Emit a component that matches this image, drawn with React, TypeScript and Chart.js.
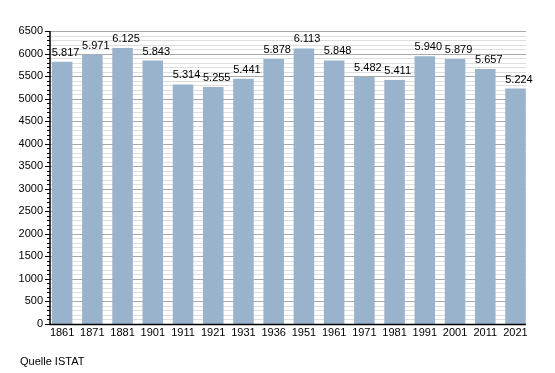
import React, { useEffect, useRef } from "react";
import { Chart, registerables } from "chart.js";

Chart.register(...registerables);

const years = ["1861", "1871", "1881", "1901", "1911", "1921", "1931", "1936", "1951", "1961", "1971", "1981", "1991", "2001", "2011", "2021"];
const population = [5817, 5971, 6125, 5843, 5314, 5255, 5441, 5878, 6113, 5848, 5482, 5411, 5940, 5879, 5657, 5224];
const yMin = 0;
const yMax = 6500;
const majorStep = 500;
const minorStep = 100;
const sourceNote = "Quelle ISTAT";

const FONT = "'Liberation Sans', Arial, sans-serif";

function fmt(v: number): string {
  const s = String(v);
  return s.replace(/\B(?=(\d{3})+(?!\d))/g, ".");
}

const AXIS_X = 50;
const AXIS_RIGHT = 526;

const gridPlugin = {
  id: "customGrid",
  beforeDatasetsDraw(chart: any) {
    const ctx = chart.ctx;
    const y = chart.scales.y;
    ctx.save();
    for (let v = yMin; v <= yMax; v += minorStep) {
      const py = Math.round(y.getPixelForValue(v)) + 0.5;
      const major = v % majorStep === 0;
      ctx.strokeStyle = major ? "#a8a8a8" : "#dedede";
      ctx.lineWidth = 1;
      ctx.beginPath();
      ctx.moveTo(AXIS_X, py);
      ctx.lineTo(AXIS_RIGHT, py);
      ctx.stroke();
    }
    ctx.restore();
  },
  afterDatasetsDraw(chart: any) {
    const ctx = chart.ctx;
    const y = chart.scales.y;
    ctx.save();
    // value labels
    ctx.fillStyle = "#000";
    ctx.font = "11px " + FONT;
    ctx.textAlign = "left";
    ctx.textBaseline = "alphabetic";
    const meta = chart.getDatasetMeta(0);
    meta.data.forEach((bar: any, i: number) => {
      ctx.fillText(fmt(population[i]), bar.x - bar.width / 2, bar.y - 6);
    });
    // axes
    const top = Math.round(y.getPixelForValue(yMax));
    const bottom = Math.round(y.getPixelForValue(yMin));
    ctx.strokeStyle = "#000";
    ctx.lineWidth = 1.5;
    ctx.beginPath();
    ctx.moveTo(AXIS_X, top);
    ctx.lineTo(AXIS_X, bottom + 0.5);
    ctx.lineTo(AXIS_RIGHT, bottom + 0.5);
    ctx.stroke();
    // ticks
    ctx.lineWidth = 1;
    for (let v = yMin; v <= yMax; v += minorStep) {
      const py = Math.round(y.getPixelForValue(v)) + 0.5;
      const major = v % majorStep === 0;
      ctx.beginPath();
      ctx.moveTo(AXIS_X - (major ? 5 : 3), py);
      ctx.lineTo(AXIS_X, py);
      ctx.stroke();
    }
    ctx.restore();
  },
};

export default function App() {
  const ref = useRef<HTMLCanvasElement | null>(null);

  useEffect(() => {
    document.body.style.margin = "0";
    const canvas = ref.current;
    if (!canvas) return;
    const chart = new Chart(canvas, {
      type: "bar",
      data: {
        labels: years,
        datasets: [
          {
            data: population,
            backgroundColor: "rgb(153,179,204)",
            borderWidth: 0,
            barPercentage: 0.68,
            categoryPercentage: 1,
          },
        ],
      },
      options: {
        responsive: false,
        animation: false,
        devicePixelRatio: 1,
        layout: { padding: { top: 31, right: 24.4, bottom: 0, left: 0 } },
        plugins: {
          legend: { display: false },
          tooltip: { enabled: false },
          title: { display: false },
        },
        scales: {
          x: {
            grid: { display: false, drawTicks: false },
            border: { display: false },
            ticks: {
              color: "#000",
              font: { family: FONT, size: 11 },
              padding: 2,
              maxRotation: 0,
              autoSkip: false,
            },
            afterFit(scale: any) {
              scale.height = 49;
            },
          },
          y: {
            min: yMin,
            max: yMax,
            grid: { display: false, drawTicks: false },
            border: { display: false },
            ticks: {
              stepSize: majorStep,
              color: "#000",
              font: { family: FONT, size: 11 },
              padding: 4,
              callback: (v: any) => String(v),
            },
            afterFit(scale: any) {
              scale.width = 47;
            },
          },
        },
      },
      plugins: [gridPlugin],
    });
    return () => chart.destroy();
  }, []);

  return (
    <div style={{ position: "relative", width: 555, height: 373, background: "#fff" }}>
      <canvas ref={ref} width={555} height={373} style={{ display: "block" }} />
      <div
        style={{
          position: "absolute",
          left: 20,
          top: 355,
          fontFamily: FONT,
          fontSize: 11,
          lineHeight: "13px",
          color: "#000",
        }}
      >
        {sourceNote}
      </div>
    </div>
  );
}
